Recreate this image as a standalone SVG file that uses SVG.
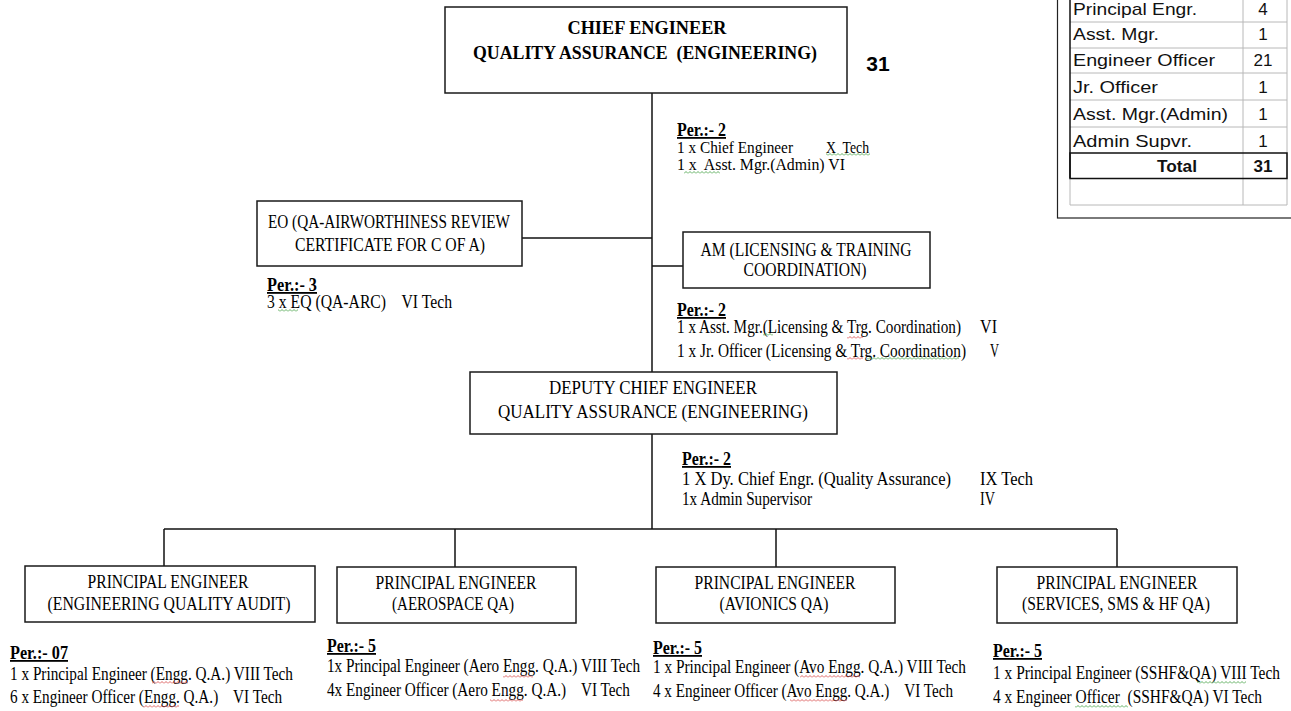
<svg xmlns="http://www.w3.org/2000/svg" width="1291" height="711" viewBox="0 0 1291 711">
<defs>
<style>
.box{fill:#fff;stroke:#1a1a1a;stroke-width:1.5}
.ln{stroke:#111;stroke-width:1.5;fill:none}
.t{font-family:"Liberation Serif","Times New Roman",serif;font-size:18px;fill:#000;white-space:pre}
.hd{font-size:19px}
.sm{font-size:16px}
.b{font-weight:bold}
.u{font-weight:bold;text-decoration:underline;font-size:18px}
.c{text-anchor:middle}
.tb{font-family:"Liberation Sans",Arial,sans-serif;font-size:17px;fill:#111}
.g{stroke:#b8b8b8;stroke-width:1;fill:none}
</style>
<pattern id="sqr" width="4" height="3" patternUnits="userSpaceOnUse"><path d="M0,2.5 L2,0.5 L4,2.5" fill="none" stroke="#d43c3c" stroke-width="0.8"/></pattern>
<pattern id="sqg" width="4" height="3" patternUnits="userSpaceOnUse"><path d="M0,2.5 L2,0.5 L4,2.5" fill="none" stroke="#3a9a3a" stroke-width="0.8"/></pattern>
</defs>
<rect width="1291" height="711" fill="#fff"/>

<g id="connectors">
<line class="ln" x1="652" y1="93" x2="652" y2="372"/>
<line class="ln" x1="522" y1="238" x2="652" y2="238"/>
<line class="ln" x1="652" y1="266" x2="683" y2="266"/>
<line class="ln" x1="652" y1="434" x2="652" y2="529"/>
<line class="ln" x1="164" y1="529" x2="1117" y2="529"/>
<line class="ln" x1="164" y1="529" x2="164" y2="566"/>
<line class="ln" x1="455" y1="529" x2="455" y2="567"/>
<line class="ln" x1="776" y1="529" x2="776" y2="567"/>
<line class="ln" x1="1117" y1="529" x2="1117" y2="567"/>
</g>

<g id="summary-table">
<rect x="1057.5" y="-5" width="240" height="223" fill="#fff" stroke="#222" stroke-width="1.2"/>
<line class="g" x1="1070" y1="22" x2="1287" y2="22"/>
<line class="g" x1="1070" y1="48" x2="1287" y2="48"/>
<line class="g" x1="1070" y1="73" x2="1287" y2="73"/>
<line class="g" x1="1070" y1="100" x2="1287" y2="100"/>
<line class="g" x1="1070" y1="127" x2="1287" y2="127"/>
<line class="g" x1="1070" y1="205" x2="1287" y2="205"/>
<line class="g" x1="1243" y1="-5" x2="1243" y2="205"/>
<line class="g" x1="1287" y1="-5" x2="1287" y2="205"/>
<line class="g" x1="1070" y1="178" x2="1070" y2="205"/>
<line stroke="#111" stroke-width="1.5" x1="1070" y1="-5" x2="1070" y2="178"/>
<rect x="1070" y="153" width="217" height="25.5" fill="none" stroke="#111" stroke-width="1.5"/>
<text class="tb" x="1073" y="15" textLength="124" lengthAdjust="spacingAndGlyphs">Principal Engr.</text>
<text class="tb c" x="1263" y="15">4</text>
<text class="tb" x="1073" y="40" textLength="86" lengthAdjust="spacingAndGlyphs">Asst. Mgr.</text>
<text class="tb c" x="1263" y="40">1</text>
<text class="tb" x="1073" y="66" textLength="142" lengthAdjust="spacingAndGlyphs">Engineer Officer</text>
<text class="tb c" x="1263" y="66">21</text>
<text class="tb" x="1073" y="93" textLength="85" lengthAdjust="spacingAndGlyphs">Jr. Officer</text>
<text class="tb c" x="1263" y="93">1</text>
<text class="tb" x="1073" y="120" textLength="155" lengthAdjust="spacingAndGlyphs">Asst. Mgr.(Admin)</text>
<text class="tb c" x="1263" y="120">1</text>
<text class="tb" x="1073" y="147" textLength="119" lengthAdjust="spacingAndGlyphs">Admin Supvr.</text>
<text class="tb c" x="1263" y="147">1</text>
<text class="tb c b" x="1177" y="172" textLength="40" lengthAdjust="spacingAndGlyphs">Total</text>
<text class="tb c b" x="1263" y="172">31</text>
</g>

<g id="total-label">
<text x="878" y="71" text-anchor="middle" font-family="Liberation Sans,Arial,sans-serif" font-size="21" font-weight="bold">31</text>
</g>

<g id="chief-engineer">
<rect class="box" x="445" y="7" width="402" height="86"/>
<text class="t hd b c" x="647" y="34" textLength="159" lengthAdjust="spacingAndGlyphs">CHIEF ENGINEER</text>
<text class="t hd b c" x="645" y="59" textLength="344" lengthAdjust="spacingAndGlyphs">QUALITY ASSURANCE  (ENGINEERING)</text>
<text class="t u" x="677" y="136" textLength="49" lengthAdjust="spacingAndGlyphs">Per.:- 2</text>
<text class="t sm" x="677" y="153" textLength="116" lengthAdjust="spacingAndGlyphs">1 x Chief Engineer</text>
<text class="t sm" x="826" y="153" textLength="43" lengthAdjust="spacingAndGlyphs">X  Tech</text>
<text class="t sm" x="677" y="170" textLength="168" lengthAdjust="spacingAndGlyphs">1 x  Asst. Mgr.(Admin) VI</text>
<rect x="826" y="153" width="44" height="3" fill="url(#sqg)"/>
<rect x="684" y="171" width="36" height="3" fill="url(#sqg)"/>
</g>

<g id="eo-arc">
<rect class="box" x="257" y="201" width="265" height="65"/>
<text class="t hd c" x="389" y="228" textLength="242" lengthAdjust="spacingAndGlyphs">EO (QA-AIRWORTHINESS REVIEW</text>
<text class="t hd c" x="390" y="251" textLength="190" lengthAdjust="spacingAndGlyphs">CERTIFICATE FOR C OF A)</text>
<text class="t u" x="267" y="291" textLength="50" lengthAdjust="spacingAndGlyphs">Per.:- 3</text>
<text class="t" x="267" y="308" textLength="185" lengthAdjust="spacingAndGlyphs">3 x EQ (QA-ARC)    VI Tech</text>
<rect x="278" y="309" width="20" height="3" fill="url(#sqg)"/>
</g>

<g id="am-licensing">
<rect class="box" x="683" y="232" width="247" height="56"/>
<text class="t hd c" x="806" y="256" textLength="211" lengthAdjust="spacingAndGlyphs">AM (LICENSING &amp; TRAINING</text>
<text class="t hd c" x="805" y="276" textLength="123" lengthAdjust="spacingAndGlyphs">COORDINATION)</text>
<text class="t u" x="677" y="316" textLength="49" lengthAdjust="spacingAndGlyphs">Per.:- 2</text>
<text class="t" x="677" y="333" textLength="284" lengthAdjust="spacingAndGlyphs">1 x Asst. Mgr.(Licensing &amp; Trg. Coordination)</text>
<text class="t" x="980" y="333" textLength="17" lengthAdjust="spacingAndGlyphs">VI</text>
<text class="t" x="677" y="357" textLength="289" lengthAdjust="spacingAndGlyphs">1 x Jr. Officer (Licensing &amp; Trg. Coordination)</text>
<text class="t" x="990" y="357" textLength="9" lengthAdjust="spacingAndGlyphs">V</text>
<rect x="763" y="333" width="10" height="3" fill="url(#sqg)"/>
<rect x="847" y="336" width="16" height="3" fill="url(#sqr)"/>
<rect x="847" y="357" width="16" height="3" fill="url(#sqr)"/>
<rect x="867" y="357" width="92" height="3" fill="url(#sqg)"/>
</g>

<g id="deputy-chief-engineer">
<rect class="box" x="470" y="372" width="367" height="62"/>
<text class="t hd c" x="653" y="394" textLength="208" lengthAdjust="spacingAndGlyphs">DEPUTY CHIEF ENGINEER</text>
<text class="t hd c" x="653" y="418" textLength="310" lengthAdjust="spacingAndGlyphs">QUALITY ASSURANCE (ENGINEERING)</text>
<text class="t u" x="682" y="465" textLength="49" lengthAdjust="spacingAndGlyphs">Per.:- 2</text>
<text class="t" x="682" y="485" textLength="269" lengthAdjust="spacingAndGlyphs">1 X Dy. Chief Engr. (Quality Assurance)</text>
<text class="t" x="980" y="485" textLength="53" lengthAdjust="spacingAndGlyphs">IX Tech</text>
<text class="t" x="682" y="505" font-size="15" textLength="130" lengthAdjust="spacingAndGlyphs">1x Admin Supervisor</text>
<text class="t" x="980" y="505" textLength="15" lengthAdjust="spacingAndGlyphs">IV</text>
</g>

<g id="pe-quality-audit">
<rect class="box" x="25" y="566" width="290" height="56"/>
<text class="t hd c" x="168" y="588" textLength="161" lengthAdjust="spacingAndGlyphs">PRINCIPAL ENGINEER</text>
<text class="t hd c" x="169" y="610" textLength="243" lengthAdjust="spacingAndGlyphs">(ENGINEERING QUALITY AUDIT)</text>
<text class="t u" x="10" y="659" textLength="58" lengthAdjust="spacingAndGlyphs">Per.:- 07</text>
<text class="t" x="10" y="680" textLength="283" lengthAdjust="spacingAndGlyphs">1 x Principal Engineer (Engg. Q.A.) VIII Tech</text>
<text class="t" x="10" y="703" textLength="272" lengthAdjust="spacingAndGlyphs">6 x Engineer Officer (Engg. Q.A.)    VI Tech</text>
<rect x="152" y="681" width="36" height="3" fill="url(#sqr)"/>
<rect x="143" y="705" width="36" height="3" fill="url(#sqr)"/>
</g>

<g id="pe-aerospace">
<rect class="box" x="337" y="567" width="239" height="56"/>
<text class="t hd c" x="456" y="589" textLength="161" lengthAdjust="spacingAndGlyphs">PRINCIPAL ENGINEER</text>
<text class="t hd c" x="453" y="610" textLength="122" lengthAdjust="spacingAndGlyphs">(AEROSPACE QA)</text>
<text class="t u" x="327" y="652" textLength="49" lengthAdjust="spacingAndGlyphs">Per.:- 5</text>
<text class="t" x="327" y="672" textLength="313" lengthAdjust="spacingAndGlyphs">1x Principal Engineer (Aero Engg. Q.A.) VIII Tech</text>
<text class="t" x="327" y="696" textLength="303" lengthAdjust="spacingAndGlyphs">4x Engineer Officer (Aero Engg. Q.A.)    VI Tech</text>
<rect x="503" y="675" width="30" height="3" fill="url(#sqr)"/>
<rect x="490" y="699" width="33" height="3" fill="url(#sqr)"/>
</g>

<g id="pe-avionics">
<rect class="box" x="656" y="567" width="239" height="56"/>
<text class="t hd c" x="775" y="589" textLength="161" lengthAdjust="spacingAndGlyphs">PRINCIPAL ENGINEER</text>
<text class="t hd c" x="774" y="610" textLength="109" lengthAdjust="spacingAndGlyphs">(AVIONICS QA)</text>
<text class="t u" x="653" y="654" textLength="49" lengthAdjust="spacingAndGlyphs">Per.:- 5</text>
<text class="t" x="653" y="673" textLength="313" lengthAdjust="spacingAndGlyphs">1 x Principal Engineer (Avo Engg. Q.A.) VIII Tech</text>
<text class="t" x="653" y="697" textLength="300" lengthAdjust="spacingAndGlyphs">4 x Engineer Officer (Avo Engg. Q.A.)    VI Tech</text>
<rect x="800" y="675" width="60" height="3" fill="url(#sqr)"/>
<rect x="790" y="699" width="57" height="3" fill="url(#sqr)"/>
</g>

<g id="pe-services">
<rect class="box" x="997" y="567" width="240" height="56"/>
<text class="t hd c" x="1117" y="589" textLength="161" lengthAdjust="spacingAndGlyphs">PRINCIPAL ENGINEER</text>
<text class="t hd c" x="1116" y="610" textLength="188" lengthAdjust="spacingAndGlyphs">(SERVICES, SMS &amp; HF QA)</text>
<text class="t u" x="993" y="657" textLength="49" lengthAdjust="spacingAndGlyphs">Per.:- 5</text>
<text class="t" x="993" y="679" textLength="287" lengthAdjust="spacingAndGlyphs">1 x Principal Engineer (SSHF&amp;QA) VIII Tech</text>
<text class="t" x="993" y="703" textLength="269" lengthAdjust="spacingAndGlyphs">4 x Engineer Officer  (SSHF&amp;QA) VI Tech</text>
<rect x="1197" y="681" width="49" height="3" fill="url(#sqg)"/>
<rect x="1075" y="705" width="53" height="3" fill="url(#sqg)"/>
</g>
</svg>
